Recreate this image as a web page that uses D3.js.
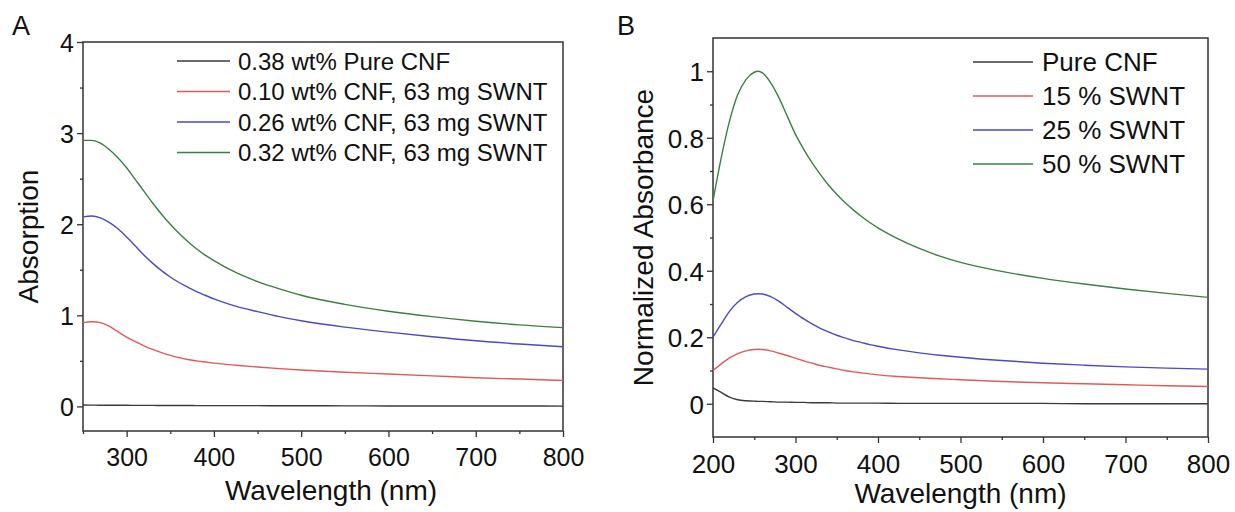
<!DOCTYPE html>
<html><head><meta charset="utf-8">
<script src="https://cdn.jsdelivr.net/npm/d3@7"></script>
<style>
html,body{margin:0;padding:0;background:#fff;}
svg{display:block;font-family:"Liberation Sans",Arial,sans-serif;}
</style></head>
<body><svg id="chart" width="1235" height="512"></svg>
<script>
// ---------- Panel A data ----------
const wlA = [250,260,270,280,290,300,310,320,330,340,350,360,370,380,390,400,425,450,475,500,550,600,650,700,750,800];
const seriesA_pure = [0.015,0.014,0.013,0.013,0.012,0.012,0.011,0.011,0.011,0.010,0.010,0.010,0.010,0.009,0.009,0.009,0.008,0.008,0.007,0.007,0.006,0.005,0.005,0.004,0.004,0.003];
const seriesA_010 = [0.92,0.93,0.92,0.88,0.82,0.76,0.71,0.665,0.625,0.59,0.56,0.535,0.515,0.50,0.487,0.475,0.452,0.432,0.415,0.40,0.375,0.355,0.335,0.315,0.30,0.285];
const seriesA_026 = [2.08,2.09,2.07,2.02,1.95,1.86,1.76,1.66,1.57,1.49,1.42,1.36,1.31,1.26,1.22,1.18,1.10,1.04,0.985,0.94,0.87,0.815,0.765,0.72,0.685,0.655];
const seriesA_032 = [2.92,2.92,2.89,2.82,2.73,2.62,2.49,2.36,2.23,2.11,2.00,1.90,1.81,1.73,1.66,1.60,1.47,1.37,1.29,1.22,1.12,1.045,0.985,0.935,0.895,0.865];
const labelsA = ["0.38 wt% Pure CNF","0.10 wt% CNF, 63 mg SWNT","0.26 wt% CNF, 63 mg SWNT","0.32 wt% CNF, 63 mg SWNT"];
const xTicksA = [300,400,500,600,700,800];
const yTicksA = [0,1,2,3,4];

// ---------- Panel B data ----------
const wlB = [200,210,220,230,240,250,255,260,270,280,290,300,310,320,330,340,350,360,370,380,390,400,425,450,475,500,550,600,650,700,750,800];
const seriesB_pure = [0.048,0.034,0.020,0.012,0.009,0.008,0.007,0.007,0.006,0.005,0.005,0.004,0.004,0.003,0.003,0.003,0.002,0.002,0.002,0.002,0.002,0.002,0.001,0.001,0.001,0.001,0.001,0.001,0.000,0.000,0.000,0.000];
const seriesB_15 = [0.100,0.120,0.138,0.151,0.159,0.163,0.164,0.163,0.159,0.152,0.145,0.137,0.129,0.122,0.115,0.110,0.105,0.100,0.096,0.093,0.090,0.087,0.082,0.078,0.075,0.072,0.067,0.063,0.060,0.057,0.054,0.052];
const seriesB_25 = [0.200,0.240,0.278,0.305,0.322,0.330,0.331,0.330,0.322,0.308,0.290,0.272,0.255,0.240,0.227,0.216,0.206,0.198,0.190,0.184,0.178,0.173,0.162,0.153,0.146,0.140,0.130,0.122,0.116,0.111,0.107,0.104];
const seriesB_50 = [0.61,0.74,0.85,0.93,0.975,0.997,1.0,0.995,0.965,0.92,0.865,0.81,0.765,0.725,0.69,0.658,0.63,0.605,0.583,0.563,0.545,0.529,0.495,0.467,0.444,0.425,0.398,0.377,0.36,0.345,0.332,0.32];
const labelsB = ["Pure CNF","15 % SWNT","25 % SWNT","50 % SWNT"];
const xTicksB = [200,300,400,500,600,700,800];
const yTicksB = [0,0.2,0.4,0.6,0.8,1];

const colors = ["#3a3a3a","#e05a5a","#4a4ac4","#3a8040"];

const svg = d3.select("#chart");

function panel(opt){
  const g = svg.append("g");
  const x = d3.scaleLinear().domain(opt.xDomain).range([opt.left,opt.right]);
  const y = d3.scaleLinear().domain(opt.yDomain).range([opt.bottom,opt.top]);
  g.append("rect").attr("x",opt.left).attr("y",opt.top)
    .attr("width",opt.right-opt.left).attr("height",opt.bottom-opt.top)
    .attr("fill","none").attr("stroke","#333").attr("stroke-width",1.5);
  const line = d3.line().x((d,i)=>x(opt.wl[i])).y(d=>y(d)).curve(d3.curveMonotoneX);
  opt.series.forEach((s,i)=>{
    g.append("path").datum(s).attr("d",line).attr("fill","none")
      .attr("stroke",colors[i]).attr("stroke-width",1.4);
  });
  const xAx = d3.axisBottom(x).tickValues(opt.xTicks).tickSize(6).tickFormat(d3.format("d"));
  const xMinor = d3.axisBottom(x).tickValues(opt.xMinor).tickSize(3).tickFormat("");
  const yAx = d3.axisLeft(y).tickValues(opt.yTicks).tickSize(6).tickFormat(opt.yFmt);
  const yMinor = d3.axisLeft(y).tickValues(opt.yMinor).tickSize(3).tickFormat("");
  [ [xAx,"b"],[xMinor,"b"],[yAx,"l"],[yMinor,"l"] ].forEach(([ax,side])=>{
    const a = g.append("g").attr("transform", side==="b" ? `translate(0,${opt.bottom})` : `translate(${opt.left},0)`).call(ax);
    a.select(".domain").remove();
    a.selectAll("line").attr("stroke","#333").attr("stroke-width",1.3);
    a.selectAll("text").attr("fill","#111").style("font-size",opt.tickFont+"px")
      .style("font-family",'"Liberation Sans",Arial,sans-serif');
    if(side==="b") a.selectAll("text").attr("dy",opt.xTickDy);
    else a.selectAll("text").attr("x",-9).attr("dy","0.36em");
  });
  g.append("text").attr("x",(opt.left+opt.right)/2+opt.xTitleDx).attr("y",opt.xTitleY)
    .attr("text-anchor","middle").style("font-size",opt.titleFont+"px").attr("fill","#111").text("Wavelength (nm)");
  g.append("text").attr("transform",`translate(${opt.yTitleX},${(opt.top+opt.bottom)/2}) rotate(-90)`)
    .attr("text-anchor","middle").style("font-size",opt.titleFont+"px").attr("fill","#111").text(opt.yTitle);
  g.append("text").attr("x",opt.letterX).attr("y",opt.letterY).style("font-size","27px").attr("fill","#111").text(opt.letter);
  opt.labels.forEach((lab,i)=>{
    const cy = opt.legY + i*opt.legStep;
    g.append("line").attr("x1",opt.legX1).attr("x2",opt.legX2).attr("y1",cy).attr("y2",cy)
      .attr("stroke",colors[i]).attr("stroke-width",1.4);
    g.append("text").attr("x",opt.legTextX).attr("y",cy).attr("dy","0.36em")
      .style("font-size",opt.legFont+"px").attr("fill","#111").text(lab);
  });
}

panel({
  xDomain:[250,800], yDomain:[-0.27,4], left:83, right:563, top:42, bottom:431,
  wl:wlA, series:[seriesA_pure,seriesA_010,seriesA_026,seriesA_032],
  xTicks:xTicksA, xMinor:[250,350,450,550,650,750], yTicks:yTicksA, yMinor:[0.5,1.5,2.5,3.5], yFmt:d3.format("d"),
  tickFont:25, xTickDy:"1.05em", titleFont:28, xTitleDx:8, xTitleY:500, yTitleX:38, yTitle:"Absorption",
  letter:"A", letterX:12, letterY:35,
  labels:labelsA, legY:61, legStep:30.5, legX1:177, legX2:230, legTextX:238, legFont:24
});

panel({
  xDomain:[200,800], yDomain:[-0.1,1.1], left:713, right:1208, top:38, bottom:437,
  wl:wlB, series:[seriesB_pure,seriesB_15,seriesB_25,seriesB_50],
  xTicks:xTicksB, xMinor:[250,350,450,550,650,750], yTicks:yTicksB, yMinor:[0.1,0.3,0.5,0.7,0.9], yFmt:d => d===0||d===1 ? d3.format("d")(d) : d3.format(".1f")(d),
  tickFont:26, xTickDy:"1.05em", titleFont:28, xTitleDx:0, xTitleY:503, yTitleX:653, yTitle:"Normalized Absorbance",
  letter:"B", letterX:617, letterY:35,
  labels:labelsB, legY:62, legStep:34, legX1:973, legX2:1033, legTextX:1042, legFont:26
});
</script></body></html>
